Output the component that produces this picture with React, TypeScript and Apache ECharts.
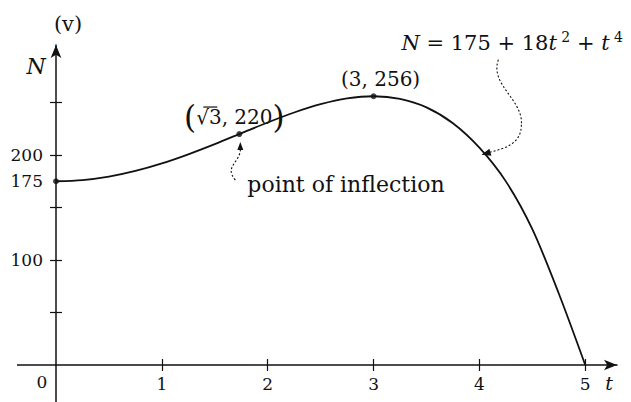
import React, { useEffect, useRef } from "react";
import * as echarts from "echarts";

// Population N(t) at quarter steps of t
const tValues = [0, 0.25, 0.5, 0.75, 1, 1.25, 1.5, 1.75, 2, 2.25, 2.5, 2.75, 3, 3.25, 3.5, 3.75, 4, 4.25, 4.5, 4.75, 5];
const nValues = [175, 176.1, 179.4, 184.8, 192, 200.7, 210.4, 220.7, 231, 240.5, 248.4, 253.9, 256, 253.5, 245.4, 230.3, 207, 174.9, 129.4, 68.1, 0];

// Highlighted points: start value, inflection point, maximum
const startPoint = [0, 175];
const inflectionPoint = [Math.sqrt(3), 220];
const maxPoint = [3, 256];

const xTickValues = [1, 2, 3, 4, 5];
const xLabelValues = [1, 2, 3, 4, 5];
const yTickValues = [50, 100, 150, 200, 250];
const yLabelValues = [100, 175, 200];

const FONT = '"DejaVu Serif", serif';
const INK = "#111";

export default function App() {
  const ref = useRef<HTMLDivElement>(null);

  useEffect(() => {
    if (!ref.current) return;
    const chart = echarts.init(ref.current, undefined, { renderer: "svg" });

    const tickStyle = { color: INK, width: 1.2 };
    const lineStyle = { color: INK, width: 1.5 };
    const option: any = {
      animation: false,
      grid: { left: 56, right: 14, top: 45, bottom: 37, containLabel: false, outerBoundsMode: "none" },
      xAxis: [
        {
          type: "value",
          min: 0,
          max: 5.3,
          splitLine: { show: false },
          axisLine: { symbol: ["none", "arrow"], symbolSize: [8, 13], lineStyle },
          axisTick: { customValues: xTickValues, length: 6, lineStyle: tickStyle },
          axisLabel: {
            customValues: xLabelValues,
            color: INK,
            fontFamily: FONT,
            fontSize: 17,
            margin: 10,
            formatter: (v: number) => String(v),
          },
        },
        {
          type: "value",
          min: 0,
          max: 5.3,
          position: "bottom",
          splitLine: { show: false },
          axisLine: { show: false },
          axisTick: { customValues: xTickValues, inside: true, length: 6, lineStyle: tickStyle },
          axisLabel: { show: false },
        },
      ],
      yAxis: [
        {
          type: "value",
          min: 0,
          max: 304.8,
          splitLine: { show: false },
          axisLine: { symbol: ["none", "arrow"], symbolSize: [8, 13], lineStyle },
          axisTick: { customValues: yTickValues, length: 6, lineStyle: tickStyle },
          axisLabel: {
            customValues: yLabelValues,
            color: INK,
            fontFamily: FONT,
            fontSize: 17,
            margin: 13,
            formatter: (v: number) => String(v),
          },
        },
        {
          type: "value",
          min: 0,
          max: 304.8,
          position: "left",
          splitLine: { show: false },
          axisLine: { show: false },
          axisTick: { customValues: yTickValues, inside: true, length: 6, lineStyle: tickStyle },
          axisLabel: { show: false },
        },
      ],
      series: [
        {
          type: "line",
          xAxisIndex: 0,
          yAxisIndex: 0,
          data: tValues.map((t, i) => [t, nValues[i]]),
          smooth: 0.3,
          showSymbol: false,
          lineStyle: { color: INK, width: 1.8 },
          z: 3,
        },
        {
          type: "scatter",
          xAxisIndex: 0,
          yAxisIndex: 0,
          data: [startPoint, inflectionPoint, maxPoint],
          symbolSize: 6,
          itemStyle: { color: INK },
          z: 4,
        },
      ],
    };
    chart.setOption(option);

    const px = (x: number, y: number) =>
      chart.convertToPixel({ gridIndex: 0 }, [x, y]) as number[];
    const O = px(0, 0);
    const xEnd = px(5.3, 0);
    const P1 = px(inflectionPoint[0], inflectionPoint[1]);
    const P2 = px(maxPoint[0], maxPoint[1]);
    const Q = px(4, nValues[16]);
    const tip2 = [Q[0] + 2, Q[1] + 7];
    const tip1 = [P1[0] + 1, P1[1] + 8];

    const dotted = { stroke: INK, lineWidth: 1.1, lineDash: [2, 2], fill: "none" };
    const txt = (x: number, y: number, text: string, extra: any = {}) => ({
      type: "text",
      x,
      y,
      style: {
        text,
        fontFamily: FONT,
        fontSize: 21,
        fill: INK,
        align: "center",
        verticalAlign: "middle",
        ...extra,
      },
    });

    chart.setOption({
      graphic: [
        // axis lines continued past the origin
        {
          type: "line",
          shape: { x1: O[0] - 39, y1: O[1], x2: O[0], y2: O[1] },
          style: { stroke: INK, lineWidth: 1.5 },
        },
        {
          type: "line",
          shape: { x1: O[0], y1: O[1], x2: O[0], y2: 402 },
          style: { stroke: INK, lineWidth: 1.5 },
        },
        txt(O[0] + 12, 24, "(v)"),
        txt(O[0] - 20, 66, "N", { fontStyle: "italic", fontSize: 22 }),
        txt(xEnd[0] - 8, O[1] + 18, "t", { fontStyle: "italic", fontSize: 19 }),
        txt(O[0] - 14, O[1] + 17, "0", { fontSize: 17 }),
        // inflection point label
        txt(P1[0] - 5, P1[1] - 17, "{p|(}{n|√3, 220}{p|)}", {
          rich: {
            p: { fontFamily: FONT, fontSize: 31, fill: INK },
            n: { fontFamily: FONT, fontSize: 20, fill: INK },
          },
        }),
        // radical bar over the 3
        {
          type: "line",
          shape: { x1: P1[0] - 36, y1: P1[1] - 27, x2: P1[0] - 22, y2: P1[1] - 27 },
          style: { stroke: INK, lineWidth: 1.2 },
        },
        txt(P2[0] + 7, P2[1] - 17, "(3, 256)", { fontSize: 20 }),
        txt(P1[0] + 8, P1[1] + 50, "point of inflection", { align: "left", fontSize: 22 }),
        {
          type: "bezierCurve",
          shape: {
            x1: P1[0] - 4, y1: P1[1] + 46,
            cpx1: P1[0] - 16, cpy1: P1[1] + 32,
            cpx2: P1[0] + 2, cpy2: P1[1] + 28,
            x2: tip1[0], y2: tip1[1] + 6,
          },
          style: dotted,
        },
        {
          type: "polygon",
          shape: { points: [[tip1[0], tip1[1]], [tip1[0] - 3, tip1[1] + 8], [tip1[0] + 3, tip1[1] + 8]] },
          style: { fill: INK },
        },
        // formula of the curve
        txt(tip2[0] - 80, 43, "{i|N}{r| = 175 + 18}{i|t}{s| 2}{r| + }{i|t}{s| 4}", {
          align: "left",
          rich: {
            i: { fontFamily: FONT, fontStyle: "italic", fontSize: 21, lineHeight: 26, fill: INK },
            r: { fontFamily: FONT, fontSize: 21, lineHeight: 26, fill: INK },
            s: { fontFamily: FONT, fontSize: 14, lineHeight: 14, verticalAlign: "top", fill: INK },
          },
        }),
        {
          type: "bezierCurve",
          shape: {
            x1: tip2[0] + 17, y1: tip2[1] - 95,
            cpx1: tip2[0] + 8, cpy1: tip2[1] - 70,
            cpx2: tip2[0] + 42, cpy2: tip2[1] - 55,
            x2: tip2[0] + 40, y2: tip2[1] - 30,
          },
          style: dotted,
        },
        {
          type: "bezierCurve",
          shape: {
            x1: tip2[0] + 40, y1: tip2[1] - 30,
            cpx1: tip2[0] + 40, cpy1: tip2[1] - 10,
            cpx2: tip2[0] + 22, cpy2: tip2[1] - 6,
            x2: tip2[0] + 7, y2: tip2[1] - 2,
          },
          style: dotted,
        },
        {
          type: "polygon",
          shape: { points: [[tip2[0], tip2[1]], [tip2[0] + 8, tip2[1] - 6], [tip2[0] + 10, tip2[1] + 1]] },
          style: { fill: INK },
        },
      ],
    });

    return () => chart.dispose();
  }, []);

  return (
    <div
      ref={ref}
      style={{ position: "fixed", left: 0, top: 0, width: 631, height: 402, background: "#fff" }}
    />
  );
}
